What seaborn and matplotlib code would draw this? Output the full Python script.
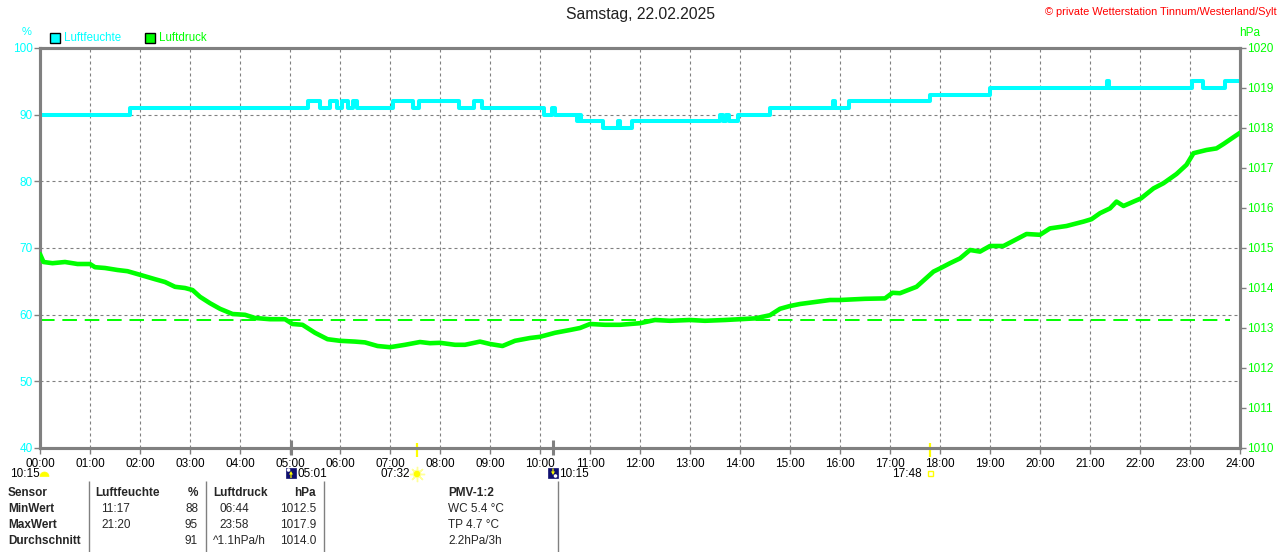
import numpy as np
import pandas as pd
import matplotlib
matplotlib.use("Agg")
import matplotlib.pyplot as plt
import seaborn as sns
from matplotlib.patches import Rectangle, Wedge, Polygon, Circle

# ---------------- data ----------------
title = "Samstag, 22.02.2025"
copyright_text = "© private Wetterstation Tinnum/Westerland/Sylt"

hour_ticks = list(range(25))
hour_labels = ["00:00", "01:00", "02:00", "03:00", "04:00", "05:00", "06:00", "07:00",
               "08:00", "09:00", "10:00", "11:00", "12:00", "13:00", "14:00", "15:00",
               "16:00", "17:00", "18:00", "19:00", "20:00", "21:00", "22:00", "23:00", "24:00"]

hum_ticks = [40, 50, 60, 70, 80, 90, 100]
press_ticks = [1010, 1011, 1012, 1013, 1014, 1015, 1016, 1017, 1018, 1019, 1020]

# Luftfeuchte (%), step changes (hour, value)
hum_time = [0.00, 1.80, 5.35, 5.60, 5.80, 5.94, 6.04, 6.16, 6.26, 6.34, 7.05, 7.46, 7.58,
            8.38, 8.68, 8.84, 10.08, 10.24, 10.30, 10.74, 10.78, 10.82, 11.26, 11.55, 11.60,
            11.84, 13.60, 13.66, 13.72, 13.78, 13.96, 14.60, 15.86, 15.90, 16.18, 17.80,
            19.00, 21.33, 21.37, 23.03, 23.26, 23.70, 24.00]
hum_value = [90, 91, 92, 91, 92, 91, 92, 91, 92, 91, 92, 91, 92,
             91, 92, 91, 90, 91, 90, 89, 90, 89, 88, 89, 88,
             89, 90, 89, 90, 89, 90, 91, 92, 91, 92, 93,
             94, 95, 94, 95, 94, 95, 95]

# Luftdruck (hPa)
press_time = [0.00, 0.07, 0.25, 0.50, 0.75, 1.00, 1.10, 1.30, 1.55, 1.75, 2.00, 2.30, 2.50,
              2.70, 2.90, 3.05, 3.20, 3.40, 3.60, 3.85, 4.10, 4.30, 4.60, 4.90, 5.05, 5.25,
              5.50, 5.75, 6.00, 6.30, 6.50, 6.75, 7.00, 7.30, 7.60, 7.80, 8.00, 8.30, 8.50,
              8.80, 9.00, 9.25, 9.50, 9.80, 10.00, 10.30, 10.60, 10.80, 11.00, 11.30, 11.60,
              12.00, 12.30, 12.60, 13.00, 13.30, 13.70, 14.00, 14.30, 14.60, 14.80, 15.00,
              15.20, 15.50, 15.80, 16.00, 16.50, 16.90, 17.05, 17.20, 17.53, 17.87, 18.00,
              18.20, 18.40, 18.60, 18.80, 19.00, 19.27, 19.47, 19.73, 20.00, 20.20, 20.53,
              20.87, 21.03, 21.20, 21.40, 21.53, 21.67, 21.87, 22.02, 22.27, 22.47, 22.73,
              22.93, 23.07, 23.33, 23.53, 23.67, 23.87, 24.00]
press_value = [1014.85, 1014.65, 1014.62, 1014.65, 1014.60, 1014.60, 1014.52, 1014.50, 1014.45,
               1014.42, 1014.33, 1014.22, 1014.15, 1014.03, 1014.00, 1013.95, 1013.78, 1013.62,
               1013.48, 1013.35, 1013.33, 1013.25, 1013.22, 1013.22, 1013.10, 1013.08, 1012.88,
               1012.72, 1012.68, 1012.66, 1012.64, 1012.55, 1012.52, 1012.58, 1012.65, 1012.62,
               1012.63, 1012.58, 1012.58, 1012.66, 1012.60, 1012.55, 1012.68, 1012.75, 1012.78,
               1012.88, 1012.95, 1013.00, 1013.10, 1013.08, 1013.08, 1013.12, 1013.20, 1013.18,
               1013.20, 1013.18, 1013.20, 1013.22, 1013.24, 1013.32, 1013.48, 1013.55, 1013.60,
               1013.65, 1013.70, 1013.70, 1013.73, 1013.74, 1013.88, 1013.87, 1014.03, 1014.41,
               1014.49, 1014.62, 1014.74, 1014.95, 1014.91, 1015.05, 1015.05, 1015.18, 1015.35,
               1015.33, 1015.49, 1015.55, 1015.66, 1015.72, 1015.87, 1015.99, 1016.16, 1016.05,
               1016.16, 1016.24, 1016.49, 1016.62, 1016.85, 1017.08, 1017.37, 1017.45, 1017.49,
               1017.60, 1017.77, 1017.88]
pressure_ref = 1013.2
pressure_ref_end = 23.8

# sun / moon events (hours)
moonrise_time, moonrise_label = 5.017, "05:01"
sunrise_time, sunrise_label = 7.533, "07:32"
moonset_time, moonset_label = 10.25, "10:15"
sunset_time, sunset_label = 17.8, "17:48"
prev_label = "10:15"

# statistics table
table_rows = ["Sensor", "MinWert", "MaxWert", "Durchschnitt"]
hum_header = ["Luftfeuchte", "%"]
hum_time_col = ["11:17", "21:20", ""]
hum_val_col = ["88", "95", "91"]
press_header = ["Luftdruck", "hPa"]
press_time_col = ["06:44", "23:58", "^1.1hPa/h"]
press_val_col = ["1012.5", "1017.9", "1014.0"]
pmv_header = "PMV-1:2"
pmv_col = ["WC 5.4 °C", "TP 4.7 °C", "2.2hPa/3h"]

# ---------------- style ----------------
CYAN = "#00FFFF"
GREEN = "#00FF00"
GRAY = "#808080"
YELLOW = "#FFFF00"
NAVY = "#101070"

sns.set_style("white")
plt.rcParams["font.family"] = ["Liberation Sans", "DejaVu Sans"]

W, H = 1280, 552
fig = plt.figure(figsize=(W / 100, H / 100), dpi=100)
fig.patch.set_facecolor("white")

ax = fig.add_axes([40 / W, 104 / H, 1200 / W, 400 / H])
ax.set_facecolor("white")

df_h = pd.DataFrame({"Zeit": hum_time, "Luftfeuchte": hum_value})
sns.lineplot(data=df_h, x="Zeit", y="Luftfeuchte", ax=ax, color=CYAN, lw=2.9,
             drawstyle="steps-post", estimator=None, legend=False, zorder=3)

ax.set_ylim(40, 100)
ax.set_yticks(hum_ticks)
ax.set_yticklabels([str(v) for v in hum_ticks])
ax.set_xlabel("")
ax.set_ylabel("")
ax.grid(True, color=GRAY, lw=0.8, ls=(0, (2.7, 2.7)))
ax.tick_params(axis="x", length=4, width=1, color=GRAY, pad=3, labelsize=8.5,
               labelcolor="black", bottom=True)
ax.tick_params(axis="y", length=4, width=1, color=GRAY, pad=1, labelsize=8.5,
               labelcolor=CYAN, left=True)
for s in ax.spines.values():
    s.set_color(GRAY)
    s.set_linewidth(2.2)

ax2 = ax.twinx()
df_p = pd.DataFrame({"Zeit": press_time, "Luftdruck": press_value})
sns.lineplot(data=df_p, x="Zeit", y="Luftdruck", ax=ax2, color=GREEN, lw=3.3,
             estimator=None, legend=False, zorder=3)
ax2.hlines(pressure_ref, 0, pressure_ref_end, colors=GREEN, lw=1.4,
           linestyles=(0, (7.5, 4)), zorder=2)
ax2.set_ylim(1010, 1020)
ax2.set_yticks(press_ticks)
ax2.set_yticklabels([str(v) for v in press_ticks])
ax2.set_ylabel("")
ax2.grid(False)
ax2.tick_params(axis="y", length=4, width=1, color=GRAY, pad=1, labelsize=8.5,
                labelcolor=GREEN, right=True)
for s in ax2.spines.values():
    s.set_color(GRAY)
    s.set_linewidth(2.2)

ax.set_xlim(0, 24)
ax.set_xticks(hour_ticks)
ax.set_xticklabels(hour_labels)

# event marks at the time axis
xt = ax.get_xaxis_transform()
ax.vlines([sunrise_time, sunset_time], -0.0225, 0.0125, transform=xt, colors=YELLOW,
          lw=1.6, clip_on=False, zorder=5)
ax.vlines([moonrise_time, moonset_time], -0.0175, 0.02, transform=xt, colors=GRAY,
          lw=2.2, clip_on=False, zorder=5)

# ---------------- overlay in pixel coordinates ----------------
ov = fig.add_axes([0, 0, 1, 1], zorder=10)
ov.set_xlim(0, W)
ov.set_ylim(H, 0)
ov.axis("off")

ov.text(640, 15, title, ha="center", va="center", fontsize=11.3, color="#202020")
ov.text(1277, 12, copyright_text, ha="right", va="center", fontsize=7.9, color="#FF0000")

ov.text(27, 32, "%", ha="center", va="center", fontsize=8, color=CYAN)
ov.text(1250, 33, "hPa", ha="center", va="center", fontsize=8.5, color=GREEN)

ov.add_patch(Rectangle((50, 33), 10, 10, fc=CYAN, ec="black", lw=1))
ov.text(64, 38, "Luftfeuchte", ha="left", va="center", fontsize=8.3, color=CYAN)
ov.add_patch(Rectangle((145, 33), 10, 10, fc=GREEN, ec="black", lw=1))
ov.text(159, 38, "Luftdruck", ha="left", va="center", fontsize=8.3, color=GREEN)

# event labels and icons
ty = 474
ov.text(10, ty, prev_label, ha="left", va="center", fontsize=8.5, color="black")
ov.add_patch(Wedge((44.5, 476.5), 4.5, 180, 360, fc=YELLOW, ec=YELLOW, lw=0.5))

ov.add_patch(Rectangle((286, 468), 10, 10, fc=NAVY, ec=NAVY, lw=0.5))
ov.add_patch(Circle((288.5, 470), 1.8, fc="white", ec="none"))
ov.add_patch(Polygon([[291, 471], [289, 474.5], [290.4, 474.5], [290.4, 478],
                      [291.6, 478], [291.6, 474.5], [293, 474.5]], fc=YELLOW, ec="none"))
ov.text(297, ty, moonrise_label, ha="left", va="center", fontsize=8.5, color="black")

ov.text(410, ty, sunrise_label, ha="right", va="center", fontsize=8.5, color="black")
ov.plot([417], [474], marker=(8, 2, 0), ms=11, mec="#FFFF99", mew=1, zorder=3)
ov.add_patch(Circle((417, 474), 3.8, fc=YELLOW, ec="#FFFF99", lw=0.8, zorder=4))

ov.add_patch(Rectangle((548, 468), 10, 10, fc=NAVY, ec=NAVY, lw=0.5))
ov.add_patch(Circle((555.5, 476), 1.8, fc="white", ec="none"))
ov.add_patch(Polygon([[553, 475], [551, 471.5], [552.4, 471.5], [552.4, 468.5],
                      [553.6, 468.5], [553.6, 471.5], [555, 471.5]], fc=YELLOW, ec="none"))
ov.text(559, ty, moonset_label, ha="left", va="center", fontsize=8.5, color="black")

ov.text(922, ty, sunset_label, ha="right", va="center", fontsize=8.5, color="black")
ov.add_patch(Rectangle((927.5, 471), 5, 5, fc="none", ec=YELLOW, lw=1))

# statistics table
for xv in [89, 206, 324, 558]:
    ov.plot([xv, xv], [481, 552], color=GRAY, lw=1, solid_capstyle="butt")

row_y = [493, 509.5, 525.5, 541.5]
fs = 8.5
for i, name in enumerate(table_rows):
    ov.text(8, row_y[i], name, ha="left", va="center", fontsize=fs, fontweight="bold")
ov.text(95, row_y[0], hum_header[0], ha="left", va="center", fontsize=fs, fontweight="bold")
ov.text(198, row_y[0], hum_header[1], ha="right", va="center", fontsize=fs, fontweight="bold")
ov.text(213, row_y[0], press_header[0], ha="left", va="center", fontsize=fs, fontweight="bold")
ov.text(316, row_y[0], press_header[1], ha="right", va="center", fontsize=fs, fontweight="bold")
ov.text(448, row_y[0], pmv_header, ha="left", va="center", fontsize=fs, fontweight="bold")
for i in range(3):
    y = row_y[i + 1]
    ov.text(101, y, hum_time_col[i], ha="left", va="center", fontsize=fs)
    ov.text(198, y, hum_val_col[i], ha="right", va="center", fontsize=fs)
    px = 213 if press_time_col[i].startswith("^") else 219
    ov.text(px, y, press_time_col[i], ha="left", va="center", fontsize=fs)
    ov.text(316, y, press_val_col[i], ha="right", va="center", fontsize=fs)
    ov.text(448, y, pmv_col[i], ha="left", va="center", fontsize=fs)

fig.savefig("out.png", dpi=100, facecolor="white")
